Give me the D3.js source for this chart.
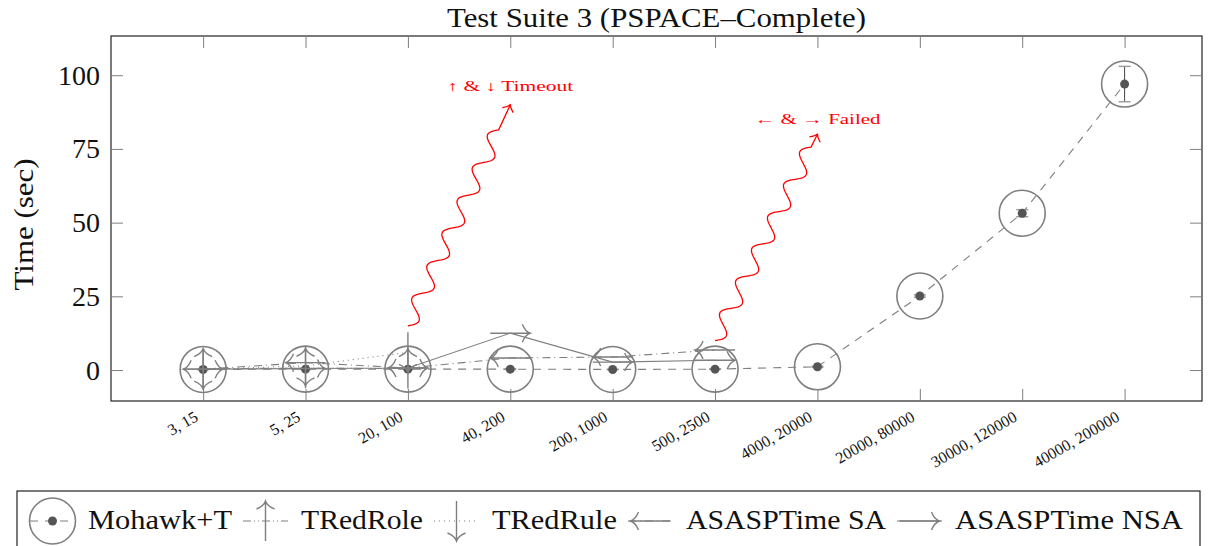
<!DOCTYPE html>
<html><head><meta charset="utf-8">
<script src="https://cdn.jsdelivr.net/npm/d3@7"></script>
<style>
body{margin:0;background:#fff}
svg text{font-family:'Liberation Serif','DejaVu Serif','Noto Serif',serif;fill:#111}
</style>
</head><body>
<svg id="c" width="1217" height="546"></svg>
<script>
// ---- data ----
const categories = ["3, 15","5, 25","20, 100","40, 200","200, 1000","500, 2500","4000, 20000","20000, 80000","30000, 120000","40000, 200000"];
const mohawk     = [0.2, 0.3, 0.3, 0.3, 0.2, 0.3, 1.1, 25.1, 53.2, 97.0];
const mohawkErr  = [0.1, 0.1, 0.1, 0.1, 0.1, 0.1, 0.2, 0.4, 1.2, 6.0];
const tredRole   = [0.5, 0.6, 0.5];
const tredRule   = [0.3, 1.4, 6.0];
const asaspSA    = [0.3, 2.5, 0.7, 4.1, 4.4, 6.8];
const asaspNSA   = [0.3, 0.5, 0.7, 12.5, 2.7, 3.3];
const yTicks     = [0, 25, 50, 75, 100];
const seriesNames = ["Mohawk+T","TRedRole","TRedRule","ASASPTime SA","ASASPTime NSA"];
const noteTexts  = ["\u2191 & \u2193 Timeout", "\u2190 & \u2192 Failed"];
const noteFrom   = [[2, 15], [5, 10]];
const noteTo     = [[3, 90], [6, 80]];
const noteLabel  = [[3, 94.5], [6, 83.5]];

// ---- layout ----
const M = {left:111, right:1202, top:36, bottom:401};
const svg = d3.select("#c");
const x = d3.scaleLinear().domain([-0.9, 9.756]).range([M.left, M.right]);
const y = d3.scaleLinear().domain([-10.5, 113.3]).range([M.bottom, M.top]);
const GRAY = "#7f7f7f";
const FONT = "'Liberation Serif','DejaVu Serif','Noto Serif',serif";

function fit(sel, w){ sel.attr("textLength", w).attr("lengthAdjust","spacingAndGlyphs"); }

// frame
svg.append("rect").attr("x",M.left).attr("y",M.top).attr("width",M.right-M.left).attr("height",M.bottom-M.top)
  .attr("fill","none").attr("stroke","#222").attr("stroke-width",1.2);

// axes with inner ticks
const idx = d3.range(categories.length);
const gxB = svg.append("g").attr("transform",`translate(0,${M.bottom})`)
  .call(d3.axisBottom(x).tickValues(idx).tickSizeInner(-12).tickSizeOuter(0).tickFormat(""));
const gxT = svg.append("g").attr("transform",`translate(0,${M.top})`)
  .call(d3.axisTop(x).tickValues(idx).tickSizeInner(-12).tickSizeOuter(0).tickFormat(""));
const gyL = svg.append("g").attr("transform",`translate(${M.left},0)`)
  .call(d3.axisLeft(y).tickValues(yTicks).tickSizeInner(-12).tickSizeOuter(0).tickFormat(""));
const gyR = svg.append("g").attr("transform",`translate(${M.right},0)`)
  .call(d3.axisRight(y).tickValues(yTicks).tickSizeInner(-12).tickSizeOuter(0).tickFormat(""));
[gxB,gxT,gyL,gyR].forEach(g=>{g.select(".domain").remove(); g.selectAll("line").attr("stroke",GRAY).attr("stroke-width",1);});

// tick labels
svg.append("g").selectAll("text").data(yTicks).join("text")
  .attr("font-family",FONT).attr("x",100).attr("y",d=>y(d)+9.5).attr("text-anchor","end").attr("font-size",28).text(d=>d);
svg.append("g").selectAll("text").data(categories).join("text")
  .attr("font-family",FONT).attr("text-anchor","end").attr("font-size",16)
  .attr("transform",(d,i)=>`translate(${x(i)-4},${M.bottom+19}) rotate(-30)`).text(d=>d);

// title, axis label
fit(svg.append("text").attr("font-family",FONT).attr("x",(M.left+M.right)/2).attr("y",27).attr("text-anchor","middle")
  .attr("font-size",27).text("Test Suite 3 (PSPACE\u2013Complete)"), 419);
fit(svg.append("text").attr("font-family",FONT).attr("transform",`translate(33,${(M.top+M.bottom)/2+6}) rotate(-90)`)
  .attr("text-anchor","middle").attr("font-size",27).text("Time (sec)"), 132);

// marker helpers
function arrowPath(L){ // pointing +x, centered at 0
  const h=L/2;
  return `M${-h},0L${h},0M${h-8},-9C${h-6},-4 ${h-3},-1 ${h},0C${h-3},1 ${h-6},4 ${h-8},9`;
}
const ARROW = arrowPath(40);
const dirAngle = {up:-90, down:90, left:180, right:0};

const line = d3.line().x((d,i)=>x(i)).y(d=>y(d));
const series = [
  {name:seriesNames[0], data:mohawk,   dash:"8,7",         mark:"circle", w:144},
  {name:seriesNames[1], data:tredRole, dash:"8,3,1,3,1,3", mark:"up",     w:122},
  {name:seriesNames[2], data:tredRule, dash:"1,4",         mark:"down",   w:125},
  {name:seriesNames[3], data:asaspSA,  dash:"8,4,1,4",     mark:"left",   w:200},
  {name:seriesNames[4], data:asaspNSA, dash:null,          mark:"right",  w:228}
];

const plot = svg.append("g");
series.forEach(s=>{
  plot.append("path").datum(s.data).attr("d",line).attr("fill","none")
    .attr("stroke",GRAY).attr("stroke-width",1.1).attr("stroke-dasharray",s.dash);
});

function drawMark(g, mark, cx, cy){
  if(mark==="circle"){
    g.append("circle").attr("cx",cx).attr("cy",cy).attr("r",23).attr("fill","none").attr("stroke",GRAY).attr("stroke-width",1.6);
    g.append("circle").attr("cx",cx).attr("cy",cy).attr("r",4.5).attr("fill","#555");
  } else {
    g.append("path").attr("d",ARROW).attr("transform",`translate(${cx},${cy}) rotate(${dirAngle[mark]})`)
      .attr("fill","none").attr("stroke",GRAY).attr("stroke-width",1.4);
  }
}
// error bars for Mohawk+T
const eb = plot.append("g");
mohawk.forEach((v,i)=>{
  const e=mohawkErr[i];
  eb.append("line").attr("x1",x(i)).attr("x2",x(i)).attr("y1",y(v-e)).attr("y2",y(v+e)).attr("stroke","#444").attr("stroke-width",1);
  [v-e,v+e].forEach(t=>eb.append("line").attr("x1",x(i)-6).attr("x2",x(i)+6).attr("y1",y(t)).attr("y2",y(t)).attr("stroke","#999").attr("stroke-width",1.4));
});
series.forEach(s=>{
  const g = plot.append("g");
  s.data.forEach((v,i)=>drawMark(g, s.mark, x(i), y(v)));
});

// annotations (red snakes)
function snakePath(p0,p1,wl,amp){
  const dx=p1[0]-p0[0], dy=p1[1]-p0[1], L=Math.hypot(dx,dy);
  const ux=dx/L, uy=dy/L, nx=-uy, ny=ux;
  const n=Math.floor((L-8)/wl), wav=n*wl, pts=[];
  for(let s=0;s<=wav;s+=1){const o=amp*Math.sin(2*Math.PI*s/wl); pts.push([p0[0]+ux*s+nx*o,p0[1]+uy*s+ny*o]);}
  pts.push(p1);
  const a=Math.atan2(dy,dx)*180/Math.PI;
  return {d:d3.line()(pts), head:`M-6,-6C-4,-3 -2,-1 0,0C-2,1 -4,3 -6,6`, a};
}
const ann = svg.append("g");
noteTexts.forEach((t,k)=>{
  const p0=[x(noteFrom[k][0]),y(noteFrom[k][1])], p1=[x(noteTo[k][0]),y(noteTo[k][1])];
  const sp=snakePath(p0,p1,36,8);
  ann.append("path").attr("d",sp.d).attr("fill","none").attr("stroke","#ff0000").attr("stroke-width",1.3);
  ann.append("path").attr("d",sp.head).attr("transform",`translate(${p1[0]},${p1[1]}) rotate(${sp.a})`)
    .attr("fill","none").attr("stroke","#ff0000").attr("stroke-width",1.3);
  fit(ann.append("text").attr("font-family",FONT).attr("x",x(noteLabel[k][0])).attr("y",y(noteLabel[k][1]))
    .attr("text-anchor","middle").attr("font-size",14).style("fill","#ff0000").text(t), 126);
});

// legend
const lg = svg.append("g");
lg.append("rect").attr("x",17).attr("y",491).attr("width",1183).attr("height",70).attr("fill","#fff").attr("stroke","#222").attr("stroke-width",1.2);
let cx = 30; const ly = 521;
series.forEach(s=>{
  lg.append("line").attr("x1",cx).attr("x2",cx+45).attr("y1",ly).attr("y2",ly).attr("stroke",GRAY).attr("stroke-width",1.1).attr("stroke-dasharray",s.dash);
  drawMark(lg, s.mark, cx+22.5, ly);
  fit(lg.append("text").attr("font-family",FONT).attr("x",cx+58).attr("y",ly+8).attr("font-size",27).text(s.name), s.w);
  cx = cx+58+s.w+11;
});
</script>
</body></html>
